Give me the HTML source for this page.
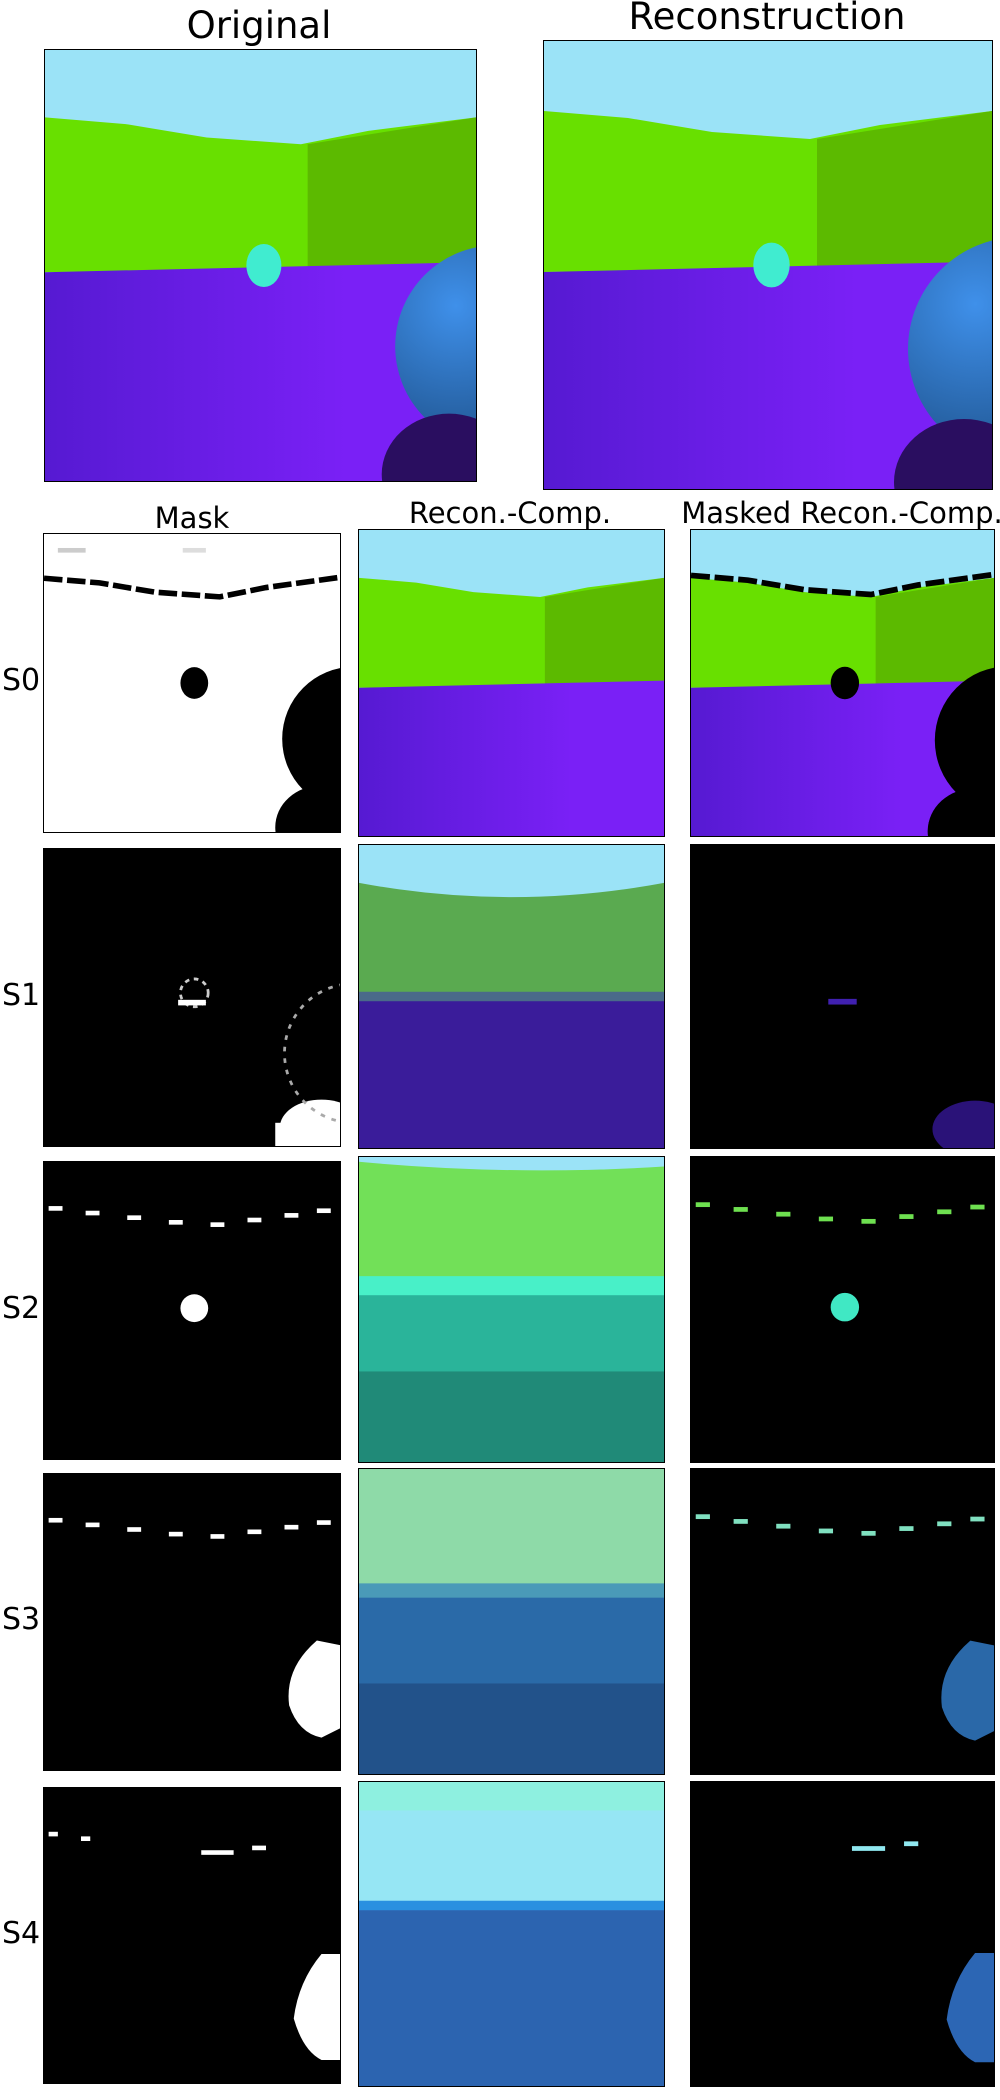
<!DOCTYPE html>
<html><head><meta charset="utf-8"><style>
body{margin:0;width:1000px;height:2100px;background:#fff;position:relative;overflow:hidden;font-family:"DejaVu Sans","Liberation Sans",sans-serif;}
.t{position:absolute;color:#000;white-space:nowrap;transform:translateX(-50%);}
.p{position:absolute;border:1.5px solid #000;box-sizing:border-box;overflow:hidden;}
.p svg{width:100%;height:100%;display:block;}
.rl{position:absolute;font-size:30px;left:2px;}
</style></head><body>
<div class="t" style="left:259px;top:4px;font-size:37px">Original</div>
<div class="t" style="left:767px;top:-5px;font-size:37px">Reconstruction</div>
<div class="t" style="left:192px;top:501px;font-size:29px">Mask</div>
<div class="t" style="left:510px;top:496px;font-size:29px">Recon.-Comp.</div>
<div class="t" style="left:842px;top:496px;font-size:29px">Masked Recon.-Comp.</div>
<script>
const rows=['S0','S1','S2','S3','S4'];
const maskTop=[533,848,1161,1473,1787], maskH=[300,299,299,298,297];
const recTop=[529,844,1156,1468,1781], recH=[308,305,307,307,306];
function scene(dark){return `<defs><linearGradient id="fl${dark}" x1="0" x2="1" y1="0" y2="0"><stop offset="0" stop-color="#561ad2"/><stop offset="0.7" stop-color="#7a20f6"/></linearGradient><radialGradient id="sp${dark}" cx="0.3" cy="0.3" r="0.8"><stop offset="0" stop-color="#3f90ea"/><stop offset="1" stop-color="#1c4e86"/></radialGradient></defs>
<rect width="64" height="64" fill="#9be3f7"/>
<path d="M0 10 L12 11 L24 13 L38 14 L48 12 L64 10 L64 32 L0 33 Z" fill="#68e000"/>
<path d="M39 14 L64 10 L64 31.5 L39 32.5 Z" fill="#5cba00"/>
<path d="M0 33 L64 31.5 L64 64 L0 64 Z" fill="url(#fl${dark})"/>
<ellipse cx="32.5" cy="32" rx="2.6" ry="3.2" fill="#40ecd0"/>
<circle cx="67" cy="44" r="15" fill="url(#sp${dark})"/>
<ellipse cx="60" cy="63" rx="10" ry="9" fill="#2a0e60"/>`;}
const dashes='<g fill="#fff"><rect x="1" y="9.5" width="3" height="1"/><rect x="9" y="10.5" width="3" height="1"/><rect x="18" y="11.5" width="3" height="1"/><rect x="27" y="12.5" width="3" height="1"/><rect x="36" y="13" width="3" height="1"/><rect x="44" y="12" width="3" height="1"/><rect x="52" y="11" width="3" height="1"/><rect x="59" y="10" width="3" height="1"/></g>';
const mask=[
`<rect width="64" height="64" fill="#fff"/><path d="M0 9.5 L12 10.5 L24 12.5 L38 13.5 L48 11.5 L64 9.3" stroke="#000" stroke-width="1.2" stroke-dasharray="4 1" fill="none"/><ellipse cx="32.5" cy="32" rx="3" ry="3.4" fill="#000"/><circle cx="67" cy="44" r="15.5" fill="#000"/><ellipse cx="60" cy="63" rx="10" ry="9" fill="#000"/><rect x="3" y="3" width="6" height="1" fill="#ccc"/><rect x="30" y="3" width="5" height="1" fill="#ddd"/>`,
`<rect width="64" height="64" fill="#000"/><ellipse cx="60" cy="60" rx="9" ry="6" fill="#fff"/><rect x="50" y="59" width="6" height="5" fill="#fff"/><circle cx="32.5" cy="31" r="3" stroke="#ccc" stroke-width="0.6" fill="none" stroke-dasharray="1 1"/><rect x="29" y="32.5" width="6" height="1.2" fill="#fff"/><circle cx="67" cy="44" r="15" stroke="#aaa" stroke-width="0.6" fill="none" stroke-dasharray="1 1.5"/>`,
`<rect width="64" height="64" fill="#000"/>${dashes}<circle cx="32.5" cy="31.5" r="3" fill="#fff"/>`,
`<rect width="64" height="64" fill="#000"/>${dashes}<path d="M59 36 Q52 42 53 50 Q55 56 60 57 L64 55 L64 37 Z" fill="#fff"/>`,
`<rect width="64" height="64" fill="#000"/><g fill="#fff"><rect x="1" y="9.5" width="2" height="1"/><rect x="8" y="10.5" width="2" height="1"/><rect x="34" y="13.5" width="7" height="1"/><rect x="45" y="12.5" width="3" height="1"/></g><path d="M60 36 Q55 42 54 50 Q56 57 60 59 L64 59 L64 36 Z" fill="#fff"/>`];
const rec=[
scene(0).replace('<ellipse cx="32.5"','<ellipse opacity="0" cx="32.5"').replace('<circle cx="67"','<circle opacity="0" cx="67"').replace('<ellipse cx="60"','<ellipse opacity="0" cx="60"'),
`<rect width="64" height="64" fill="#5aaa50"/><path d="M0 0 H64 V8 Q32 14 0 8Z" fill="#9be3f7"/><rect y="32" width="64" height="32" fill="#3a1c9a"/><rect y="31" width="64" height="2" fill="#4a6a8a"/>`,
`<rect width="64" height="64" fill="#2ab49a"/><rect width="64" height="26" fill="#72e058"/><path d="M0 0H64V2Q32 4 0 1Z" fill="#9be3f7"/><rect y="25" width="64" height="4" fill="#48f0c8"/><rect y="45" width="64" height="19" fill="#208a78"/>`,
`<rect width="64" height="64" fill="#2a6aa8"/><rect width="64" height="25" fill="#8edaa8"/><rect y="24" width="64" height="3" fill="#4a9ab8"/><rect y="45" width="64" height="19" fill="#22528a"/>`,
`<rect width="64" height="64" fill="#2c64b0"/><rect width="64" height="26" fill="#96e6f4"/><rect width="64" height="6" fill="#8ef0e0"/><rect y="25" width="64" height="2" fill="#2a90e0"/>`];
const masked=[
scene(1)+`<path d="M0 9.5 L12 10.5 L24 12.5 L38 13.5 L48 11.5 L64 9.3" stroke="#000" stroke-width="1.2" stroke-dasharray="4 1" fill="none"/><ellipse cx="32.5" cy="32" rx="3" ry="3.4" fill="#000"/><circle cx="67" cy="44" r="15.5" fill="#000"/><ellipse cx="60" cy="63" rx="10" ry="9" fill="#000"/>`,
`<rect width="64" height="64" fill="#000"/><ellipse cx="60" cy="60" rx="9" ry="6" fill="#2a1278"/><rect x="29" y="32.5" width="6" height="1.2" fill="#4020b0"/>`,
`<rect width="64" height="64" fill="#000"/>${dashes.replace('#fff','#6ee050')}<circle cx="32.5" cy="31.5" r="3" fill="#40e8c4"/>`,
`<rect width="64" height="64" fill="#000"/>${dashes.replace('#fff','#80e0c0')}<path d="M59 36 Q52 42 53 50 Q55 56 60 57 L64 55 L64 37 Z" fill="#2a68a8"/>`,
`<rect width="64" height="64" fill="#000"/><g fill="#90e8f0"><rect x="34" y="13.5" width="7" height="1"/><rect x="45" y="12.5" width="3" height="1"/></g><path d="M60 36 Q55 42 54 50 Q56 57 60 59 L64 59 L64 36 Z" fill="#2c66b4"/>`];
function panel(name,x,y,w,h,content){
  const d=document.createElement('div');
  d.className='p';
  
  
  d.style.cssText=`left:${x}px;top:${y}px;width:${w}px;height:${h}px`;
  d.innerHTML=`<svg viewBox="0 0 64 64" preserveAspectRatio="none">${content}</svg>`;
  document.body.appendChild(d);
}
panel('original-image',44,49,433,433,scene(2));
panel('reconstruction-image',543,40,450,450,scene(3).replace('cx="67" cy="44" r="15"','cx="68" cy="44" r="16"'));
rows.forEach((r,i)=>{
  const l=document.createElement('div');
  l.className='rl';
  
  
  l.style.top=(maskTop[i]+maskH[i]/2-20)+'px';
  l.textContent=r;
  document.body.appendChild(l);
  panel('mask-'+r.toLowerCase(),43,maskTop[i],298,maskH[i],mask[i]);
  panel('recon-comp-'+r.toLowerCase(),358,recTop[i],307,recH[i],rec[i]);
  panel('masked-recon-comp-'+r.toLowerCase(),690,recTop[i],305,recH[i],masked[i]);
});
</script>
</body></html>
